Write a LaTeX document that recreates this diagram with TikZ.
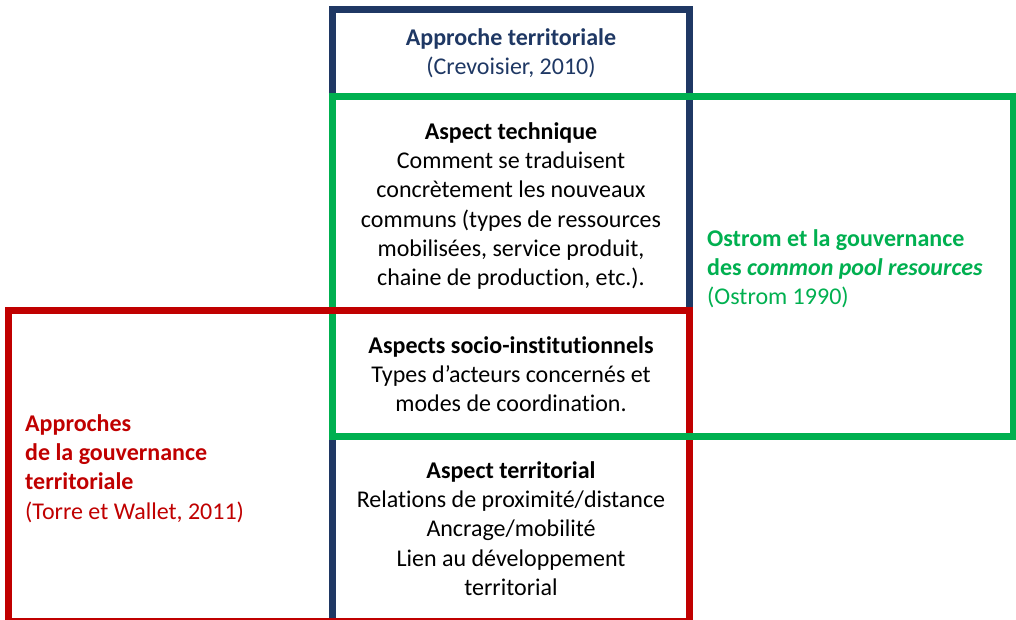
\documentclass[tikz,border=0pt]{standalone}
\usepackage{fontspec}
\setmainfont{Carlito}[Ligatures={NoCommon}]
\definecolor{navy}{HTML}{1F3864}
\definecolor{grn}{HTML}{00B050}
\definecolor{rd}{HTML}{C00000}
\tikzset{
  frame/.style={line width=7pt},
  txt/.style={inner sep=0pt, font=\fontsize{24}{29.3}\selectfont},
  ctxt/.style={txt, align=center, anchor=north},
  ltxt/.style={txt, align=left, anchor=north west},
}
\begin{document}
\begin{tikzpicture}[x=1pt,y=-1pt]
\fill[white] (0,0) rectangle (1016,620);
\useasboundingbox (0,0) rectangle (1016,620);
% frames
\draw[frame, navy] (332.5,9.5) rectangle (689.5,628);
\draw[frame, grn] (332.5,96.5) rectangle (1013,436.5);
\draw[frame, rd] (8.5,310.5) rectangle (689.5,621.5);
\coordinate (gA) at (640,436.5);
\coordinate (gB) at (740,436.5);
\draw[frame, grn] (gA) -- (gB);
% navy block texts
\node[ctxt, text=navy] (title) at (511,24.5)
  {\strut\textbf{Approche territoriale}\\\strut(Crevoisier, 2010)};
\node[ctxt] (tech) at (511,118.5)
  {\strut\textbf{Aspect technique}\\\strut Comment se traduisent\\\strut concrètement les nouveaux\\\strut communs (types de ressources\\\strut mobilisées, service produit,\\\strut chaine de production, etc.).};
\node[ctxt] (socio) at (511,332.5)
  {\strut\textbf{Aspects socio-institutionnels}\\\strut Types d’acteurs concernés et\\\strut modes de coordination.};
\node[ctxt] (terr) at (511,457.5)
  {\strut\textbf{Aspect territorial}\\\strut Relations de proximité/distance\\\strut Ancrage/mobilité\\\strut Lien au développement\\\strut territorial};
% green text
\node[ltxt, text=grn] (ostrom) at (707,225.5)
  {\strut\textbf{Ostrom et la gouvernance}\\\strut\textbf{des \textit{common pool resources}}\\\strut(Ostrom 1990)};
% red text
\node[ltxt, text=rd] (gouv) at (25,410.5)
  {\strut\textbf{Approches}\\\strut\textbf{de la gouvernance}\\\strut\textbf{territoriale}\\\strut(Torre et Wallet, 2011)};
\end{tikzpicture}
\end{document}
